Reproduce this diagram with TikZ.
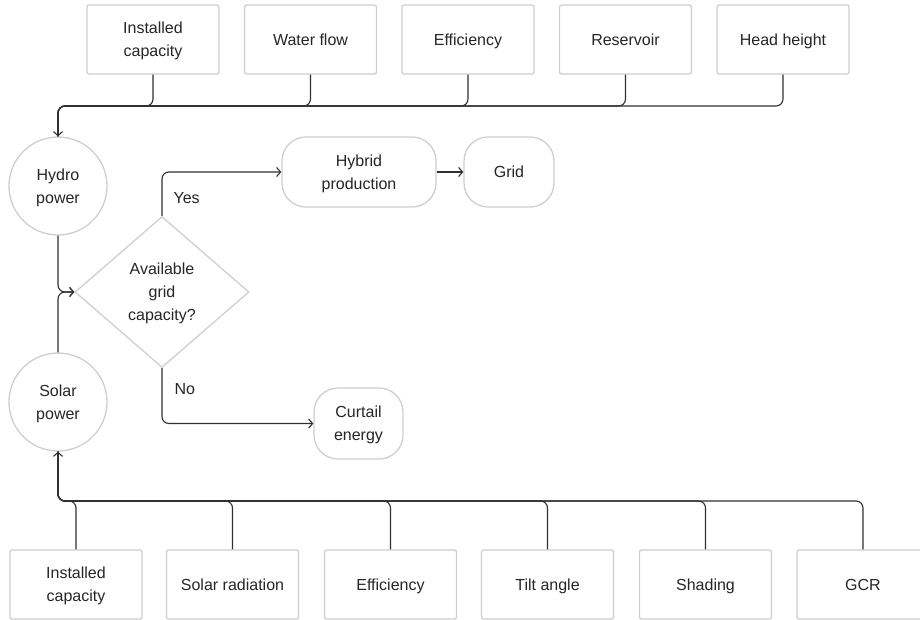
\documentclass[tikz,border=0pt]{standalone}
\usepackage{fontspec}
\setmainfont{Liberation Sans}
\usetikzlibrary{shapes.geometric,arrows.meta}
\definecolor{boxgray}{HTML}{CFCFCF}
\definecolor{txt}{HTML}{262626}
\definecolor{linec}{HTML}{303030}
\begin{document}
\begin{tikzpicture}[x=1pt,y=-1pt,
  lbl/.style={text=txt, font=\fontsize{16}{23}\selectfont},
  shp/.style={lbl, text depth=0pt, draw=boxgray, line width=1.3pt, align=center, inner sep=0pt},
  box/.style={shp, rounded corners=2pt, minimum width=132pt, minimum height=69pt},
  circ/.style={shp, circle, minimum size=98pt},
  term/.style={shp, rounded corners=24pt, minimum height=70pt},
  decis/.style={shp, diamond, minimum width=174pt, minimum height=151pt},
  conn/.style={draw=linec, line width=1.1pt, rounded corners=7pt},
  arr/.style={conn, -{Straight Barb[length=4pt,width=9pt]}}]
\useasboundingbox (0,0) rectangle (920,619);
\clip (0,0) rectangle (920,619);
\fill[white] (0,0) rectangle (920,619);
% top boxes
\node[box] (t1) at (153,39.5) {Installed\\capacity};
\node[box] (t2) at (310.5,39.5) {Water flow};
\node[box] (t3) at (468,39.5) {Efficiency};
\node[box] (t4) at (625.5,39.5) {Reservoir};
\node[box] (t5) at (783,39.5) {Head height};
% bottom boxes
\node[box] (b1) at (76,584.5) {Installed\\capacity};
\node[box] (b2) at (232.5,584.5) {Solar radiation};
\node[box] (b3) at (390.5,584.5) {Efficiency};
\node[box] (b4) at (547.5,584.5) {Tilt angle};
\node[box] (b5) at (705.5,584.5) {Shading};
\node[box] (b6) at (863,584.5) {GCR};
% circles
\node[circ] (hydro) at (58,186) {Hydro\\power};
\node[circ] (solar) at (58,402) {Solar\\power};
% diamond
\node[decis] (dia) at (162,292) {Available\\grid\\capacity?};
% terminals
\node[term, minimum width=154pt] (hyb) at (359,172) {Hybrid\\production};
\node[term, minimum width=90pt] (grid) at (509,172) {Grid};
\node[term, minimum width=89pt, minimum height=71pt] (cur) at (358.5,423.5) {Curtail\\energy};
% bus coordinates
\coordinate (topbus) at (58,106);
\coordinate (botbus) at (58,501);
% top connectors
\draw[arr] (t1.south) |- (topbus) -- (hydro.north);
\foreach \n in {t2,t3,t4,t5}{
  \draw[conn] (\n.south) |- (topbus) -- (hydro.north);
}
% bottom connectors
\draw[arr] (b1.north) |- (botbus) -- (solar.south);
\foreach \n in {b2,b3,b4,b5,b6}{
  \draw[conn] (\n.north) |- (botbus) -- (solar.south);
}
% to diamond
\draw[arr] (hydro.south) |- (dia.west);
\draw[arr] (solar.north) |- (dia.west);
% branches
\draw[arr] (dia.north) |- (hyb.west);
\draw[arr] (dia.south) |- (cur.west);
\draw[arr] (hyb.east) -- (grid.west);
\node[lbl, anchor=west] (yes) at (170,198) {Yes};
\node[lbl, anchor=west] (no) at (171,389) {No};
\end{tikzpicture}
\end{document}
